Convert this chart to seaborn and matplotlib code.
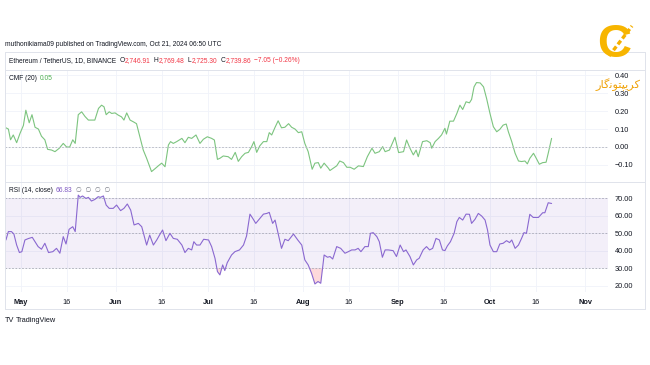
import numpy as np
import matplotlib
matplotlib.use("Agg")
import matplotlib.pyplot as plt
import seaborn as sns
from matplotlib.lines import Line2D

W, H = 650, 365

# x = days counted from 2024-05-01
cmf_day = [-4.9, -4.1, -3.4, -2.5, -1.4, -0.3, 0.8, 1.6, 2.7, 3.6, 4.6, 5.7, 6.7, 7.8, 8.7,
           10.0, 11.1, 12.5, 13.8, 14.9, 15.9, 16.9, 17.7, 18.7, 19.8, 20.9, 22.0, 24.1, 25.3,
           26.3, 27.1, 27.8, 28.8, 29.6, 30.7, 31.7, 32.8, 33.6, 34.5, 35.6, 36.7, 37.7, 38.8,
           39.9, 41.0, 42.6, 43.8, 44.8, 45.9, 47.0, 48.1, 48.8, 49.7, 50.8, 52.5, 53.5, 54.6,
           55.7, 57.1, 58.4, 59.5, 60.8, 62.2, 63.1, 64.1, 64.9, 66.0, 67.6, 68.7, 69.9, 70.9,
           72.0, 73.1, 74.2, 75.2, 76.0, 76.9, 77.9, 79.1, 80.2, 81.0, 81.8, 82.9, 83.9, 85.0,
           86.1, 87.3, 88.3, 89.4, 90.5, 91.6, 92.6, 93.7, 95.0, 95.9, 97.0, 97.8, 98.9, 100.3,
           100.8, 101.9, 103.0, 104.0, 105.2, 106.3, 107.4, 108.7, 110.1, 111.7, 113.0, 114.5,
           115.5, 116.9, 118.0, 118.8, 120.2, 120.9, 122.0, 123.2, 124.8, 125.8, 126.9, 128.0,
           128.9, 129.6, 131.0, 132.4, 133.5, 134.0, 135.1, 136.2, 137.2, 138.3, 138.8, 139.9,
           141.1, 142.2, 143.2, 144.1, 145.2, 146.3, 147.0, 147.8, 148.6, 149.8, 150.9, 151.9,
           153.0, 154.1, 155.2, 156.2, 157.3, 158.3, 159.0, 160.1, 161.2, 162.3, 163.3, 164.4,
           165.2, 166.0, 167.2, 168.1, 169.1, 170.2, 171.3, 172.0, 173.1]
cmf_val = [0.107, 0.100, 0.040, 0.067, 0.024, 0.076, 0.120, 0.205, 0.135, 0.180, 0.110, 0.100,
           0.060, 0.040, -0.013, -0.017, -0.026, -0.007, 0.020, 0.000, 0.000, 0.040, 0.020,
           0.180, 0.196, 0.170, 0.150, 0.150, 0.215, 0.233, 0.224, 0.180, 0.196, 0.187, 0.190,
           0.178, 0.168, 0.150, 0.190, 0.150, 0.140, 0.130, 0.057, -0.017, -0.063, -0.137,
           -0.120, -0.105, -0.090, -0.110, 0.011, 0.030, 0.020, 0.030, 0.048, 0.024, 0.054,
           0.048, 0.067, 0.020, 0.043, 0.057, 0.048, 0.039, -0.069, -0.063, -0.050, -0.054,
           -0.069, -0.030, -0.080, -0.054, -0.035, -0.030, 0.000, 0.030, -0.030, 0.006, 0.030,
           0.030, 0.080, 0.067, 0.110, 0.146, 0.107, 0.110, 0.130, 0.110, 0.100, 0.080, 0.085,
           0.020, -0.026, -0.124, -0.090, -0.087, -0.118, -0.090, -0.118,
           -0.131, -0.118, -0.105, -0.078, -0.087, -0.113, -0.113, -0.124, -0.105, -0.109,
           -0.054, -0.007, -0.035, -0.026, 0.002, -0.026, -0.017, 0.011, 0.054, -0.031, -0.026,
           0.039, -0.007, -0.044, -0.017, -0.054, 0.030, 0.035, 0.024, -0.007, 0.030, 0.048,
           0.067, 0.104, 0.072, 0.144, 0.144, 0.187, 0.233, 0.209, 0.252, 0.246, 0.265, 0.335,
           0.359, 0.357, 0.335, 0.270, 0.187, 0.113, 0.085, 0.098, 0.122, 0.128, 0.085, 0.030,
           -0.035, -0.078, -0.081, -0.078, -0.094, -0.063, -0.035, -0.063, -0.096, -0.087,
           -0.085, -0.035, 0.048]

rsi_day = [-4.9, -4.1, -3.1, -2.3, -1.4, -0.5, 0.3, 1.3, 2.4, 3.7, 4.6, 5.6, 6.7, 7.8, 9.0,
           10.4, 11.6, 12.7, 13.8, 14.7, 15.7, 16.9, 17.7, 18.7, 19.3, 20.1, 21.2, 22.0, 23.0,
           24.1, 25.2, 25.9, 26.9, 27.8, 28.8, 30.1, 31.2, 32.5, 33.6, 34.7, 35.8, 36.9, 38.3,
           39.4, 41.0, 42.0, 43.2, 44.3, 45.2, 46.2, 47.3, 48.6, 49.7, 51.0, 52.5, 53.5, 54.6,
           55.7, 56.4, 57.3, 58.4, 59.6, 61.2, 62.2, 63.3, 64.1, 64.9, 65.8, 66.5, 67.3, 68.7,
           69.8, 71.3, 72.6, 73.6, 74.7, 75.6, 76.6, 77.7, 79.1, 80.2, 81.0, 82.1, 82.9, 83.9,
           85.0, 86.1, 87.2, 88.9, 90.3, 91.6, 92.6, 93.7, 94.8, 95.9, 96.9, 97.8, 98.9, 100.0,
           100.8, 101.7, 103.0, 104.3, 105.7, 106.8, 107.9, 109.0, 110.0, 110.9, 112.2, 113.3,
           114.0, 114.9, 116.1, 116.9, 117.9, 118.8, 119.8, 121.4, 122.5, 123.7, 124.8, 125.6,
           126.9, 128.0, 129.1, 129.9, 131.2, 132.3, 133.3, 134.3, 135.4, 136.5, 137.5, 138.3,
           139.1, 140.1, 141.3, 142.2, 143.0, 144.1, 145.2, 146.3, 147.0, 148.1, 149.2, 150.3,
           151.4, 152.2, 153.0, 154.1, 155.2, 156.2, 157.3, 158.4, 159.4, 160.1, 161.2, 162.3,
           163.3, 164.1, 164.9, 166.0, 167.1, 168.8, 170.2, 170.9, 172.0, 173.1]
rsi_val = [46.2, 51.0, 51.0, 49.6, 43.3, 39.0, 39.5, 46.2, 47.0, 47.7, 45.2, 42.4, 40.9, 44.3,
           39.0, 39.5, 41.4, 38.6, 48.1, 43.9, 52.3, 53.8, 51.0, 71.9, 70.6, 71.4, 70.0, 70.6,
           68.5, 69.4, 71.0, 70.6, 71.4, 66.2, 64.3, 64.3, 66.2, 63.0, 64.3, 66.8, 63.3, 54.8,
           55.7, 53.8, 43.3, 49.0, 43.3, 46.2, 49.0, 51.9, 45.8, 50.0, 47.1, 46.6, 43.3, 39.0,
           41.4, 40.5, 45.2, 43.3, 43.3, 46.6, 46.2, 42.4, 35.7, 28.1, 26.2, 31.9, 28.7, 33.2,
           37.6, 39.5, 40.5, 43.3, 48.5, 61.0, 58.6, 55.7, 58.0, 61.0, 61.4, 62.0, 55.7, 57.6,
           50.0, 41.4, 46.6, 45.8, 49.6, 46.2, 43.3, 34.8, 31.9, 27.1, 21.0, 22.4, 21.4, 37.6,
           36.3, 36.7, 35.3, 42.4, 41.4, 38.6, 39.5, 40.5, 40.5, 41.4, 39.5, 42.4, 42.4, 50.0,
           50.4, 48.1, 45.2, 36.3, 40.5, 40.5, 40.1, 36.7, 43.3, 39.5, 40.5, 36.7, 31.9, 34.8,
           35.7, 40.5, 42.4, 40.5, 41.4, 47.1, 46.2, 40.5, 40.1, 42.8, 45.2, 50.0, 56.7, 59.1,
           57.6, 61.0, 60.9, 55.7, 58.0, 61.4, 59.9, 57.6, 51.9, 43.3, 39.5, 39.5, 43.9, 44.3,
           45.8, 44.7, 46.2, 41.4, 43.3, 47.1, 50.4, 50.0, 60.9, 59.1, 59.1, 61.8, 61.8, 67.5,
           67.1]

tick_day = [0, 15, 31, 46, 61, 76, 92, 107, 123, 138, 153, 168, 184]
tick_lab = ["May", "16", "Jun", "16", "Jul", "16", "Aug", "16", "Sep", "16", "Oct", "16", "Nov"]
cmf_ticks = [-0.1, 0.0, 0.1, 0.2, 0.3, 0.4]
rsi_ticks = [20, 30, 40, 50, 60, 70]

TXT = "#131722"
GRID = "#f0f3fa"
BORDER = "#e0e3eb"
RED = "#f23645"
CMF_C = "#7cc47f"
RSI_C = "#8a68d0"
LBL = 4.8   # legend/header font size

sns.set_style("white")
plt.rcParams["font.family"] = ["Liberation Sans", "DejaVu Sans"]

fig = plt.figure(figsize=(W / 100, H / 100), dpi=100)
fig.patch.set_facecolor("white")


def box(x0, y0, x1, y1):
    return [x0 / W, 1 - y1 / H, (x1 - x0) / W, (y1 - y0) / H]


def hline(y, x0=5, x1=645, color=BORDER):
    fig.add_artist(Line2D([x0 / W, x1 / W], [1 - y / H, 1 - y / H], color=color, lw=0.7))


def vline(x, y0=52, y1=309, color=BORDER):
    fig.add_artist(Line2D([x / W, x / W], [1 - y0 / H, 1 - y1 / H], color=color, lw=0.7))


def write_row(x, y, parts, size):
    r = fig.canvas.get_renderer()
    for txt, col, gap in parts:
        t = fig.text(x / W, 1 - y / H, txt, color=col, fontsize=size, va="center", ha="left")
        x += t.get_window_extent(r).width + gap


def style_pane(ax, yticks):
    ax.set_xlim(-5.2, 191.5)
    ax.set_xticks(tick_day)
    ax.set_yticks(yticks)
    ax.yaxis.tick_right()
    ax.grid(True, color=GRID, lw=0.6)
    ax.tick_params(axis="both", length=0, labelsize=5.3, labelcolor=TXT)
    ax.tick_params(axis="y", pad=5)
    for s in ax.spines.values():
        s.set_visible(False)
    ax.set_xlabel("")
    ax.set_ylabel("")


# CMF pane
ax1 = fig.add_axes(box(5, 70, 608, 182))
sns.lineplot(x=cmf_day, y=cmf_val, ax=ax1, color=CMF_C, lw=0.8, estimator=None)
ax1.axhline(0, color="#b2b5be", lw=0.6, ls=(0, (2, 2)))
style_pane(ax1, cmf_ticks)
ax1.set_ylim(-0.195, 0.429)
ax1.set_yticklabels([f"{v:.2f}".replace("-", "\u2212") for v in cmf_ticks])
ax1.set_xticklabels([])

# RSI pane
ax2 = fig.add_axes(box(5, 182, 608, 292))
rsi = np.array(rsi_val)
ax2.axhspan(30, 70, color="#7e57c2", alpha=0.09, lw=0)
for lvl in (70, 50, 30):
    ax2.axhline(lvl, color="#a8a9b4", lw=0.6, ls=(0, (2, 2)))
ax2.fill_between(rsi_day, rsi, 30, where=rsi < 30, interpolate=True, color="#f7525f", alpha=0.22, lw=0)
ax2.fill_between(rsi_day, rsi, 70, where=rsi > 70, interpolate=True, color="#22ab94", alpha=0.1, lw=0)
sns.lineplot(x=rsi_day, y=rsi_val, ax=ax2, color=RSI_C, lw=0.8, estimator=None)
style_pane(ax2, rsi_ticks)
ax2.set_ylim(16.4, 79.4)
ax2.set_yticklabels([f"{v:.2f}" for v in rsi_ticks])
ax2.tick_params(axis="x", pad=5)
ax2.set_xticklabels(tick_lab)
for lab in ax2.get_xticklabels():
    if not lab.get_text().isdigit():
        lab.set_fontweight("bold")

# frame
hline(52)
hline(70)
hline(182)
hline(309)
vline(5)
vline(645)

# texts
fig.text(5 / W, 1 - 44 / H, "muthonikiama09 published on TradingView.com, Oct 21, 2024 06:50 UTC",
         fontsize=4.8, color=TXT, va="center")
write_row(9, 61, [("Ethereum / TetherUS, 1D, BINANCE", TXT, 3), ("O", TXT, 0.5), ("2,746.91", RED, 3),
                  ("H", TXT, 0.5), ("2,769.48", RED, 3), ("L", TXT, 0.5), ("2,725.30", RED, 3),
                  ("C", TXT, 0.5), ("2,739.86", RED, 3), ("\u22127.05 (\u22120.26%)", RED, 0)], LBL)
write_row(9, 79, [("CMF (20)", TXT, 3), ("0.05", "#4caf50", 0)], LBL)
write_row(9, 190, [("RSI (14, close)", TXT, 3), ("66.83", "#7e57c2", 3),
                   ("\u2205  \u2205  \u2205  \u2205", "#787b86", 0)], LBL)
write_row(5, 320, [("TV", TXT, 1.5), ("TradingView", TXT, 0)], 5.3)

# watermark logo (gold C with a chain across it, Persian name below)
fig.text(614 / W, 1 - 45 / H, "C", fontsize=34, fontweight="bold", color="#f7b500",
         ha="center", va="center")
fig.add_artist(Line2D([609 / W, 632 / W], [1 - 56 / H, 1 - 26 / H], color="#f5b000", lw=2.4,
                      dashes=(1.4, 0.8), solid_capstyle="butt"))
logo = "\ufead\ufe8e\ufb94\ufee7\ufeee\ufe98\ufb59\ufbfe\ufeae\ufb90"
fig.text(618 / W, 1 - 84.5 / H, logo, fontsize=8.2, color="#f0a30a", ha="center", va="center",
         family=["DejaVu Sans"])

fig.savefig("out.png", dpi=100)
